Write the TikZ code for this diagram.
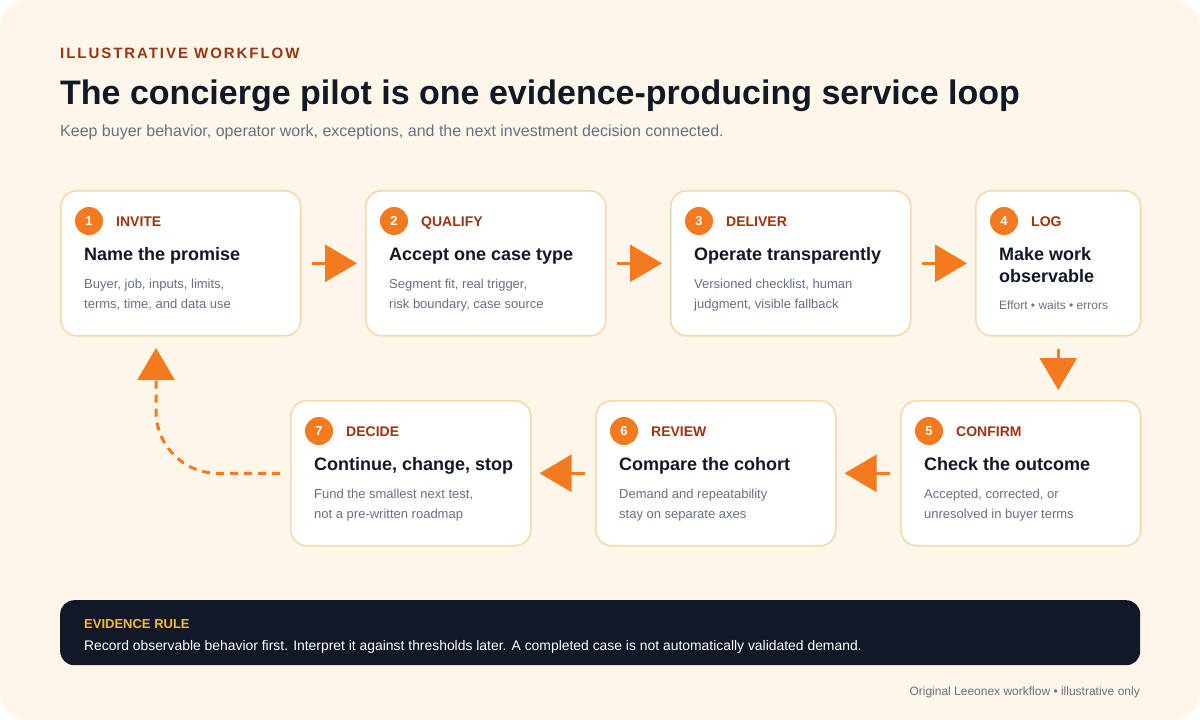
\documentclass[tikz,border=0pt]{standalone}
\usepackage{fontspec}
\setmainfont{Liberation Sans}
\newfontfamily\trackfont[LetterSpace=13]{Liberation Sans}
\usetikzlibrary{arrows.meta,positioning}
\definecolor{cream}{HTML}{FEF7E9}
\definecolor{cardline}{HTML}{F7D8AE}
\definecolor{flow}{HTML}{F47A1F}
\definecolor{rust}{HTML}{9A3412}
\definecolor{ink}{HTML}{111827}
\definecolor{slate}{HTML}{667085}
\definecolor{gold}{HTML}{F6B931}

\begin{document}
\begin{tikzpicture}[x=1pt,y=-1pt]
%----------styles---------
\tikzset{
card/.style={draw=cardline, line width=1.6pt, fill=white, rounded corners=16pt,
  minimum width=240pt, minimum height=145pt, anchor=north west, inner sep=0pt},
badge/.style={circle, fill=flow, text=white, font=\fontsize{13}{13}\selectfont\bfseries,
  minimum size=28pt, inner sep=0pt},
tag/.style={anchor=base west, text=rust, font=\fontsize{14}{14}\selectfont\bfseries, inner sep=0pt},
head/.style={anchor=base west, text=ink, font=\fontsize{18}{18}\selectfont\bfseries, inner sep=0pt},
body/.style={anchor=base west, text=slate, font=\fontsize{13}{13}\selectfont, inner sep=0pt},
flowarrow/.style={draw=flow, line width=3pt, -{Triangle[length=32pt,width=37pt]}},
}

\useasboundingbox (0,0) rectangle (1200,720);
\fill[white] (0,0) rectangle (1200,720);
\fill[cream, rounded corners=28pt] (0,0) rectangle (1200,720);

%----------header---------
\node (kicker) [anchor=base west, inner sep=0pt, text=rust, font=\fontsize{15}{15}\trackfont\bfseries] at (60,58) {ILLUSTRATIVE WORKFLOW};
\node (title) [anchor=base west, inner sep=0pt, text=ink, font=\fontsize{34}{34}\selectfont\bfseries] at (60,104) {The concierge pilot is one evidence-producing service loop};
\node (subtitle) [anchor=base west, inner sep=0pt, text=slate, font=\fontsize{16}{16}\selectfont] at (60,136) {Keep buyer behavior, operator work, exceptions, and the next investment decision connected.};

%----------top row---------
\node (step1) [card] at (60,190) {};
\node (num1) [badge] at (89,221) {1};
\node (tag1) [tag] at (116,226) {INVITE};
\node (head1) [head] at (84,260) {Name the promise};
\node (body1a) [body] at (84,288) {Buyer, job, inputs, limits,};
\node (body1b) [body] at (84,308) {terms, time, and data use};

\node (step2) [card] at (365,190) {};
\node (num2) [badge] at (394,221) {2};
\node (tag2) [tag] at (421,226) {QUALIFY};
\node (head2) [head] at (389,260) {Accept one case type};
\node (body2a) [body] at (389,288) {Segment fit, real trigger,};
\node (body2b) [body] at (389,308) {risk boundary, case source};

\node (step3) [card] at (670,190) {};
\node (num3) [badge] at (699,221) {3};
\node (tag3) [tag] at (726,226) {DELIVER};
\node (head3) [head] at (694,260) {Operate transparently};
\node (body3a) [body] at (694,288) {Versioned checklist, human};
\node (body3b) [body] at (694,308) {judgment, visible fallback};

\node (step4) [card, minimum width=165pt] at (975,190) {};
\node (num4) [badge] at (1004,221) {4};
\node (tag4) [tag] at (1031,226) {LOG};
\node (head4a) [head] at (999,260) {Make work};
\node (head4b) [head] at (999,282) {observable};
\node (body4) [body, font=\fontsize{12}{12}\selectfont] at (999,309) {Effort • waits • errors};

%----------bottom row---------
\node (step7) [card] at (290,400) {};
\node (num7) [badge] at (319,431) {7};
\node (tag7) [tag] at (346,436) {DECIDE};
\node (head7) [head] at (314,470) {Continue, change, stop};
\node (body7a) [body] at (314,498) {Fund the smallest next test,};
\node (body7b) [body] at (314,518) {not a pre-written roadmap};

\node (step6) [card] at (595,400) {};
\node (num6) [badge] at (624,431) {6};
\node (tag6) [tag] at (651,436) {REVIEW};
\node (head6) [head] at (619,470) {Compare the cohort};
\node (body6a) [body] at (619,498) {Demand and repeatability};
\node (body6b) [body] at (619,518) {stay on separate axes};

\node (step5) [card] at (900,400) {};
\node (num5) [badge] at (929,431) {5};
\node (tag5) [tag] at (956,436) {CONFIRM};
\node (head5) [head] at (924,470) {Check the outcome};
\node (body5a) [body] at (924,498) {Accepted, corrected, or};
\node (body5b) [body] at (924,518) {unresolved in buyer terms};

%----------arrows---------
\draw [flowarrow] ([xshift=10pt]step1.east) -- ([xshift=-8pt]step2.west);
\draw [flowarrow] ([xshift=10pt]step2.east) -- ([xshift=-8pt]step3.west);
\draw [flowarrow] ([xshift=10pt]step3.east) -- ([xshift=-8pt]step4.west);
\draw [flowarrow] ([yshift=-12pt]step4.south) -- ([yshift=10pt]step4.south |- step5.north);
\draw [flowarrow] ([xshift=-10pt]step5.west) -- ([xshift=8pt]step6.east);
\draw [flowarrow] ([xshift=-10pt]step6.west) -- ([xshift=8pt]step7.east);

% loop back
\coordinate (back) at (156,348);
\draw [flowarrow, dash pattern=on 8pt off 6pt, rounded corners=62pt] ([xshift=-10pt]step7.west) -| (back);

%----------evidence rule---------
\node (rule) [anchor=north west, fill=ink, rounded corners=14pt, minimum width=1080pt, minimum height=65pt, inner sep=0pt] at (60,600) {};
\node (ruletag) [anchor=base west, inner sep=0pt, text=gold, font=\fontsize{13}{13}\selectfont\bfseries] at (84,628) {EVIDENCE RULE};
\node (ruletext) [anchor=base west, inner sep=0pt, text=white, font=\fontsize{13.9}{14}\selectfont] at (84,650) {Record observable behavior first. Interpret it against thresholds later. A completed case is not automatically validated demand.};

\node (footer) [anchor=base east, inner sep=0pt, text=slate, font=\fontsize{12}{12}\selectfont] at (1140,695) {Original Leeonex workflow • illustrative only};
\end{tikzpicture}
\end{document}
